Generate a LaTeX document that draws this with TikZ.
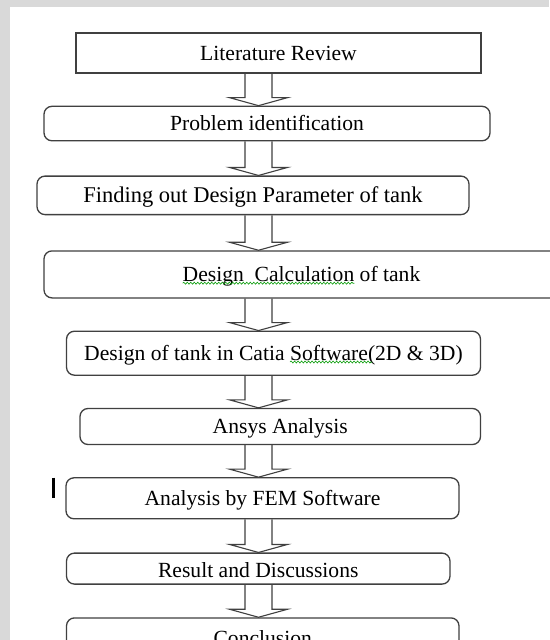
\documentclass[tikz,border=0pt]{standalone}
\usepackage{fontspec}
\setmainfont{Liberation Serif}
\usetikzlibrary{positioning, calc, decorations.pathmorphing}
\tikzstyle{stage} = [rectangle,
rounded corners=8pt,
draw=black!75,
line width=1.3pt,
inner sep=0pt,
text height=14.3pt,
text depth=0pt,
font=\fontsize{21.6}{26}\selectfont]
\tikzstyle{hollow} = [draw=black!75, line width=1.1pt, line join=miter]
\tikzstyle{spell} = [draw=green!60!black, line width=0.6pt, decorate,
decoration={snake, segment length=3.5pt, amplitude=1pt}]
\newcommand{\blockarrow}[2]{%
  \draw [hollow] let \p1 = (#1.south -| spine), \p2 = (#2.north -| spine) in
    (\x1-13.5pt,\y1) -- (\x1-13.5pt,\y2+8pt) -- (\x1-29pt,\y2+8pt) -- (\x2,\y2)
    -- (\x1+29pt,\y2+8pt) -- (\x1+13.5pt,\y2+8pt) -- (\x1+13.5pt,\y1);}

\begin{document}
\begin{tikzpicture}[node distance=32pt]

  \fill [black!15] (0,0) rectangle (549pt,-640pt);
  \fill [white] (10pt,-7pt) rectangle (549pt,-640pt);
  \useasboundingbox (0,0) rectangle (549pt,-640pt);
  \coordinate (spine) at (258.5pt,0);

  \node (lit) [stage, sharp corners, minimum width=405pt, minimum height=40pt] at (278.5pt,-53pt) {Literature Review};
  \node (prob) [stage, minimum width=446pt, minimum height=34.5pt, below=of lit, xshift=-11.5pt] {Problem identification};
  \node (find) [stage, minimum width=432pt, minimum height=38.5pt, below=34pt of prob, xshift=-14pt, font=\fontsize{22.5}{27}\selectfont] {Finding out Design Parameter of tank};
  \node (calc) [stage, minimum width=515pt, minimum height=47pt, below=35pt of find, xshift=48.5pt] {Design\ \ Calculation of tank};
  \node (catia) [stage, minimum width=414pt, minimum height=44pt, below=of calc, xshift=-28pt] {Design of tank in Catia Software(2D \& 3D)};
  \node (ansys) [stage, minimum width=400.5pt, minimum height=36pt, below=of catia, xshift=6.75pt] {Ansys Analysis};
  \node (fem) [stage, minimum width=393pt, minimum height=41pt, below=of ansys, xshift=-17.75pt] {Analysis by FEM Software};
  \node (res) [stage, minimum width=383.5pt, minimum height=31pt, below=33pt of fem, xshift=-4.25pt] {};
  \node (concl) [stage, minimum width=392.5pt, minimum height=40pt, below=33pt of res, xshift=4.5pt, yshift=0.5pt] {Conclusion};

  % text of the last but one box is cut at its foot
  \begin{scope}
    \clip (res.north west) rectangle ([yshift=7.5pt]res.south east);
    \node (restext) [font=\fontsize{21.6}{26}\selectfont, inner sep=0pt, anchor=base] at ([yshift=-25.5pt]res.north) {Result and Discussions};
  \end{scope}

  % spelling marks
  \draw [spell] ([xshift=-118.8pt, yshift=-8.8pt]calc.center) -- ([xshift=52.8pt, yshift=-8.8pt]calc.center);
  \draw [spell] ([xshift=16.5pt, yshift=-8.8pt]catia.center) -- ([xshift=98.5pt, yshift=-8.8pt]catia.center);

  \blockarrow{lit}{prob}
  \blockarrow{prob}{find}
  \blockarrow{find}{calc}
  \blockarrow{calc}{catia}
  \blockarrow{catia}{ansys}
  \blockarrow{ansys}{fem}
  \blockarrow{fem}{res}
  \blockarrow{res}{concl}

  \draw [line width=3pt] (53.5pt,-477.7pt) -- (53.5pt,-497.7pt);

\end{tikzpicture}
\end{document}
